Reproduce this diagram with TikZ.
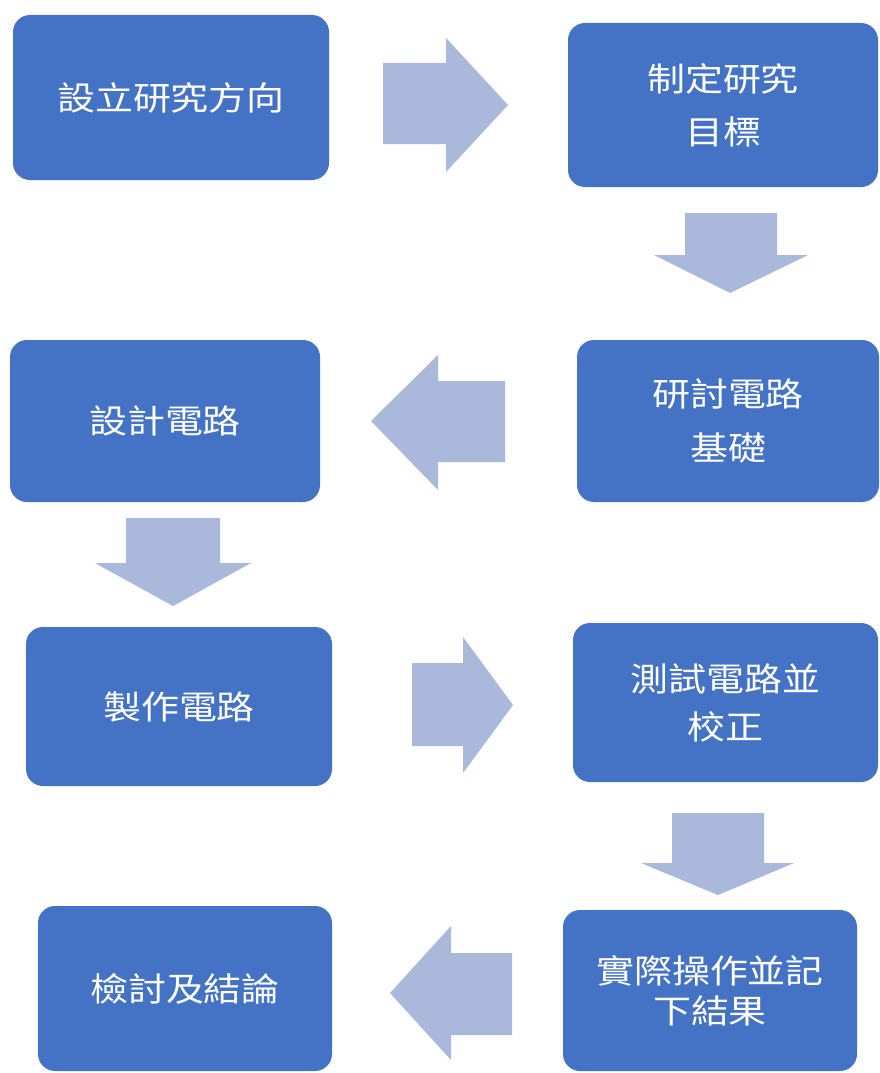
\documentclass[tikz,border=0pt]{standalone}
\usepackage{fontspec}
\newfontfamily\cjk[FakeStretch=1.15]{Noto Sans CJK TC}
\definecolor{boxblue}{HTML}{4472C4}
\definecolor{arrowblue}{HTML}{AAB8DB}
\begin{document}
\begin{tikzpicture}[x=1pt,y=-1pt,
  stepbox/.style={fill=boxblue, draw=none, rounded corners=17pt, text=white,
    font=\cjk\fontsize{33}{40}\selectfont, align=center, inner sep=0pt},
  blockarrow/.style={fill=arrowblue, draw=none}]
\fill[white] (0,0) rectangle (880,1073);
\useasboundingbox (0,0) rectangle (880,1073);
% boxes
\node[stepbox, minimum width=316pt, minimum height=165pt] (b1) at (171,97.5) {設立研究方向};
\node[stepbox, minimum width=310pt, minimum height=164pt] (b2) at (723,105) {制定研究\\[13pt]目標};
\node[stepbox, minimum width=302pt, minimum height=162pt] (b3) at (728,421) {研討電路\\[14pt]基礎};
\node[stepbox, minimum width=310pt, minimum height=162pt] (b4) at (165,421) {設計電路};
\node[stepbox, minimum width=306pt, minimum height=159pt] (b5) at (179,706.5) {製作電路};
\node[stepbox, minimum width=305pt, minimum height=159pt] (b6) at (725.5,702.5) {測試電路並\\[8pt]校正};
\node[stepbox, minimum width=294pt, minimum height=161pt] (b7) at (710,990.5) {實際操作並記\\下結果};
\node[stepbox, minimum width=294pt, minimum height=165pt] (b8) at (185,988.5) {檢討及結論};
% block arrows
\fill[blockarrow] (383,63) -- (446,63) -- (446,38) -- (508,105) -- (446,172) -- (446,144) -- (383,144) -- cycle;
\fill[blockarrow] (685,213) -- (777,213) -- (777,255) -- (808,255) -- (730,293) -- (654,255) -- (685,255) -- cycle;
\fill[blockarrow] (505,381) -- (438,381) -- (438,355) -- (371,421) -- (438,490) -- (438,462) -- (505,462) -- cycle;
\fill[blockarrow] (126,518) -- (220,518) -- (220,563) -- (251,563) -- (173,606) -- (95,563) -- (126,563) -- cycle;
\fill[blockarrow] (412,663) -- (463,663) -- (463,637) -- (513,705) -- (463,773) -- (463,746) -- (412,746) -- cycle;
\fill[blockarrow] (672,813) -- (764,813) -- (764,863) -- (794,863) -- (718,895) -- (641,863) -- (672,863) -- cycle;
\fill[blockarrow] (512,953) -- (451,953) -- (451,926) -- (390,993) -- (451,1060) -- (451,1035) -- (512,1035) -- cycle;
\end{tikzpicture}
\end{document}
